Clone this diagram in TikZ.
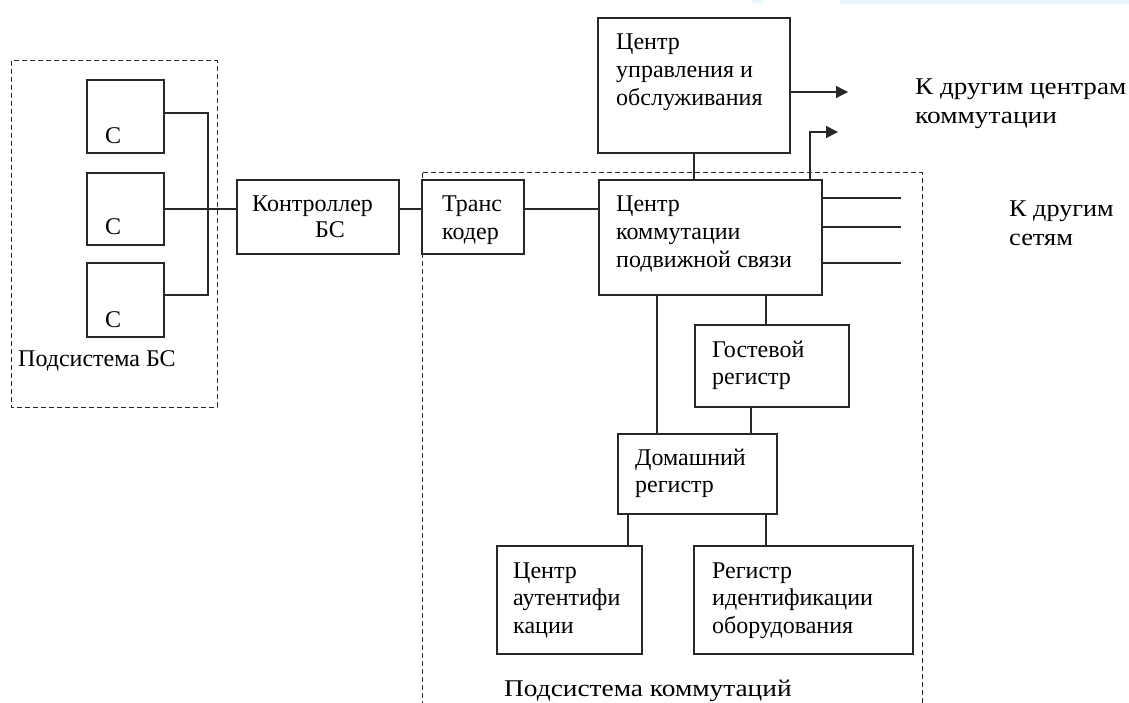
\documentclass[tikz,border=0pt]{standalone}
\usepackage{fontspec}
\usepackage{graphicx}
\setmainfont{Liberation Serif}
\usetikzlibrary{arrows.meta}
\definecolor{ln}{RGB}{40,40,40}
\definecolor{smudge}{RGB}{234,246,254}
\newcommand{\widetxt}[2]{\scalebox{#1}[1]{#2}}
\tikzset{
  box/.style={draw=ln, line width=1.3pt, rectangle, inner sep=0pt, outer sep=0pt},
  wire/.style={draw=ln, line width=1.3pt},
  arr/.style={wire, -{Triangle[length=12pt,width=12pt]}},
  dashbox/.style={draw=ln, line width=1pt, dash pattern=on 5pt off 3pt},
  lbl/.style={anchor=base west, inner sep=0pt, align=left, font=\fontsize{24}{27.6}\selectfont}
}
\begin{document}
\begin{tikzpicture}[x=1pt,y=-1pt]
\clip (0,0) rectangle (1129,703);
\fill[white] (0,0) rectangle (1129,703);
\fill[smudge] (752,0) rectangle (763,3);
\fill[smudge] (840,0) rectangle (1129,4);

% dashed subsystems
\draw[dashbox] (11,61) rectangle (217,407);
\draw[dashbox] (422,173) rectangle (922,720);

% boxes
\node[box, minimum width=77pt, minimum height=73pt] (c1) at (125.5,116.5) {};
\node[box, minimum width=77pt, minimum height=72pt] (c2) at (125.5,209) {};
\node[box, minimum width=77pt, minimum height=74pt] (c3) at (125.5,300) {};
\node[box, minimum width=162pt, minimum height=74pt] (bsc) at (318,217) {};
\node[box, minimum width=102pt, minimum height=74pt] (tc) at (473,217) {};
\node[box, minimum width=223pt, minimum height=115pt] (msc) at (710.5,237.5) {};
\node[box, minimum width=192pt, minimum height=135pt] (omc) at (694,85.5) {};
\node[box, minimum width=154pt, minimum height=82pt] (vlr) at (772,366) {};
\node[box, minimum width=159pt, minimum height=80pt] (hlr) at (697.5,474) {};
\node[box, minimum width=145pt, minimum height=108pt] (auc) at (569.5,600) {};
\node[box, minimum width=219pt, minimum height=108pt] (eir) at (803.5,600) {};

% helper coordinates
\coordinate (bus1) at (208,113);
\coordinate (bus3) at (208,295);
\coordinate (a1) at (848,92);
\coordinate (a2) at (810,132);
\coordinate (a2e) at (838,132);
\coordinate (n1) at (901,198);
\coordinate (n2) at (901,227);
\coordinate (n3) at (901,263);
\coordinate (xh) at (657,0);
\coordinate (xv) at (766,0);
\coordinate (xg) at (751,0);
\coordinate (xa) at (628,0);
\coordinate (xe) at (766,0);

% connectors
\draw[wire] (c1.east |- bus1) -- (bus1) -- (bus3) -- (c3.east |- bus3);
\draw[wire] (c2.east) -- (bsc.west |- c2.east);
\draw[wire] (bsc.east |- c2.east) -- (tc.west |- c2.east);
\draw[wire] (tc.east |- c2.east) -- (msc.west |- c2.east);
\draw[wire] (omc.south) -- (msc.north -| omc.south);
\draw[arr] (omc.east |- a1) -- (a1);
\draw[arr] (msc.north -| a2) -- (a2) -- (a2e);
\draw[wire] (msc.east |- n1) -- (n1);
\draw[wire] (msc.east |- n2) -- (n2);
\draw[wire] (msc.east |- n3) -- (n3);
\draw[wire] (msc.south -| xh) -- (hlr.north -| xh);
\draw[wire] (msc.south -| xv) -- (vlr.north -| xv);
\draw[wire] (vlr.south -| xg) -- (hlr.north -| xg);
\draw[wire] (hlr.south -| xa) -- (auc.north -| xa);
\draw[wire] (hlr.south -| xe) -- (eir.north -| xe);

% labels (base anchor = baseline of the last line)
\node[lbl] (t1) at (105,144) {С};
\node[lbl] (t2) at (105,235) {С};
\node[lbl] (t3) at (105,327) {С};
\node[lbl] (tbs) at (18,366) {Подсистема БС};
\node[lbl] (tbsc1) at (252,212) {Контроллер};
\node[lbl] (tbsc2) at (315,238) {БС};
\node[lbl] (ttc) at (442,239.6) {Транс\\кодер};
\node[lbl] (tmsc) at (616,267.2) {Центр\\коммутации\\подвижной связи};
\node[lbl] (tomc) at (616,105.2) {Центр\\управления и\\обслуживания};
\node[lbl, font=\fontsize{24}{29}\selectfont] (tcc) at (915,124) {\widetxt{1.13}{К другим центрам}\\\widetxt{1.14}{коммутации}};
\node[lbl, font=\fontsize{24}{29}\selectfont] (tnet) at (1009,246) {\widetxt{1.09}{К другим}\\\widetxt{1.1}{сетям}};
\node[lbl] (tvlr) at (712,384.6) {Гостевой\\регистр};
\node[lbl] (thlr) at (635,492.6) {Домашний\\регистр};
\node[lbl] (tauc) at (513,633.2) {Центр\\аутентифи\\кации};
\node[lbl] (teir) at (712,633.2) {Регистр\\идентификации\\оборудования};
\node[lbl] (tsw) at (504,696) {\widetxt{1.14}{Подсистема коммутаций}};
\end{tikzpicture}
\end{document}
